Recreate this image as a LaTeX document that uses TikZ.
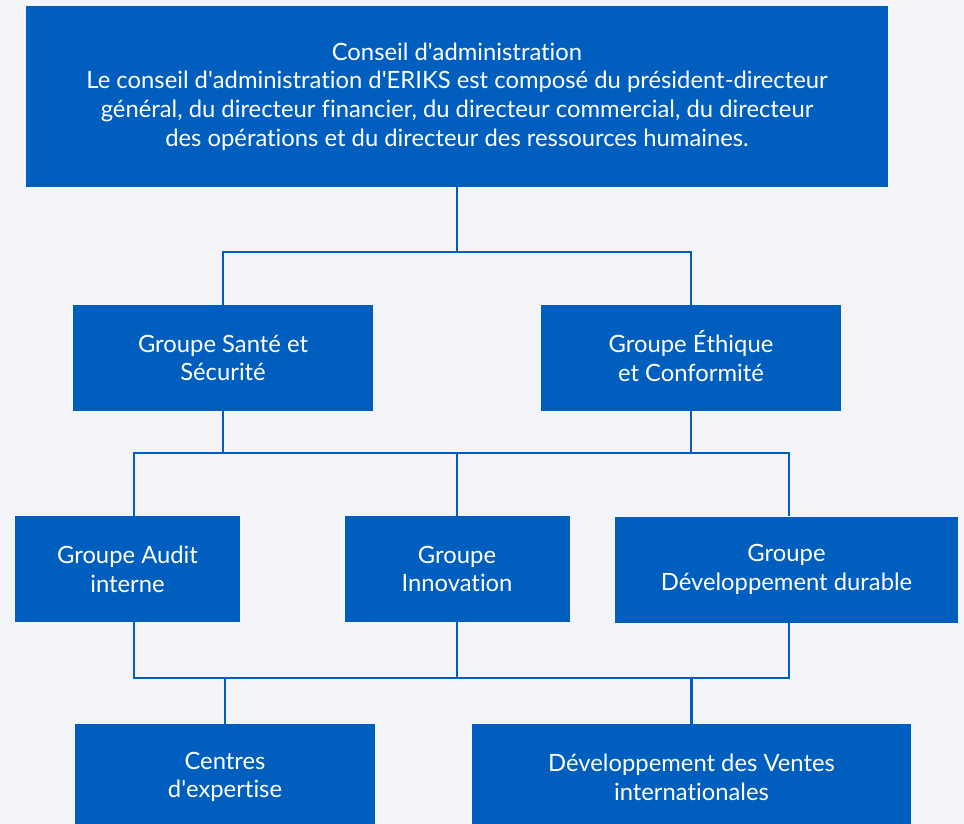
\documentclass[tikz,border=0pt]{standalone}
\usepackage{fontspec}
\setmainfont{Lato}[Ligatures={NoCommon}]
\newcommand{\apost}{\textquotesingle}

\begin{document}
\begin{tikzpicture}[x=1pt,y=-1pt,
        boite/.style={fill=bleu,text=white,align=center,inner sep=0pt,
            minimum height=106pt,font=\fontsize{23.8}{28.7}\selectfont},
        lien/.style={draw=bleu,line width=2.4pt}]
        %couleurs
        \definecolor{fond}{HTML}{F2F4F8}
        \definecolor{bleu}{HTML}{005EBE}

        % Fond
        \useasboundingbox (0,0) rectangle (964,824);
        \clip (0,0) rectangle (964,824);
        \fill[fond] (0,0) rectangle (964,824);

        % Conseil
        \node[boite,minimum width=862pt,minimum height=181pt] (conseil) at (457,96.5)
            {Conseil d\apost administration\\
             Le conseil d\apost administration d\apost ERIKS est composé du président-directeur\\
             général, du directeur financier, du directeur commercial, du directeur\\
             des opérations et du directeur des ressources humaines.};

        % Niveau 2
        \node[boite,minimum width=300pt] (sante) at (223,358) {Groupe Santé et\\Sécurité};
        \node[boite,minimum width=300pt] (ethique) at (691,358) {Groupe \smash{É}thique\\et Conformité};

        % Niveau 3
        \node[boite,minimum width=225pt] (audit) at (127.5,569) {Groupe Audit\\interne};
        \node[boite,minimum width=225pt] (innov) at (457,569) {Groupe\\Innovation};
        \node[boite,minimum width=343pt] (durable) at (786.5,569.5) {Groupe\\Développement durable};

        % Niveau 4
        \node[boite,minimum width=300pt] (centres) at (225,777) {Centres\\d\apost expertise};
        \node[boite,minimum width=439pt] (ventes) at (691.5,777) {Développement des Ventes\\internationales};

        % Liens
        \coordinate (j1) at (457,252);
        \coordinate (j2) at (457,453);
        \coordinate (j3) at (457,678);
        \draw[lien] (conseil.south) -- (j1);
        \draw[lien] (sante.north) |- (j1) -| (ethique.north);
        \foreach \n in {sante,ethique}
            \draw[lien] (\n.south) -- (\n.south |- j2);
        \draw[lien] ([xshift=6.5pt]audit.north) |- (j2) -| ([xshift=2.5pt]durable.north);
        \draw[lien] (j2) -- (innov.north);
        \draw[lien] ([xshift=6.5pt]audit.south) |- (j3) -| ([xshift=2.5pt]durable.south);
        \draw[lien] (innov.south) -- (j3);
        \draw[lien] (centres.north) |- (j3) -| (ventes.north);
    \end{tikzpicture}
\end{document}
